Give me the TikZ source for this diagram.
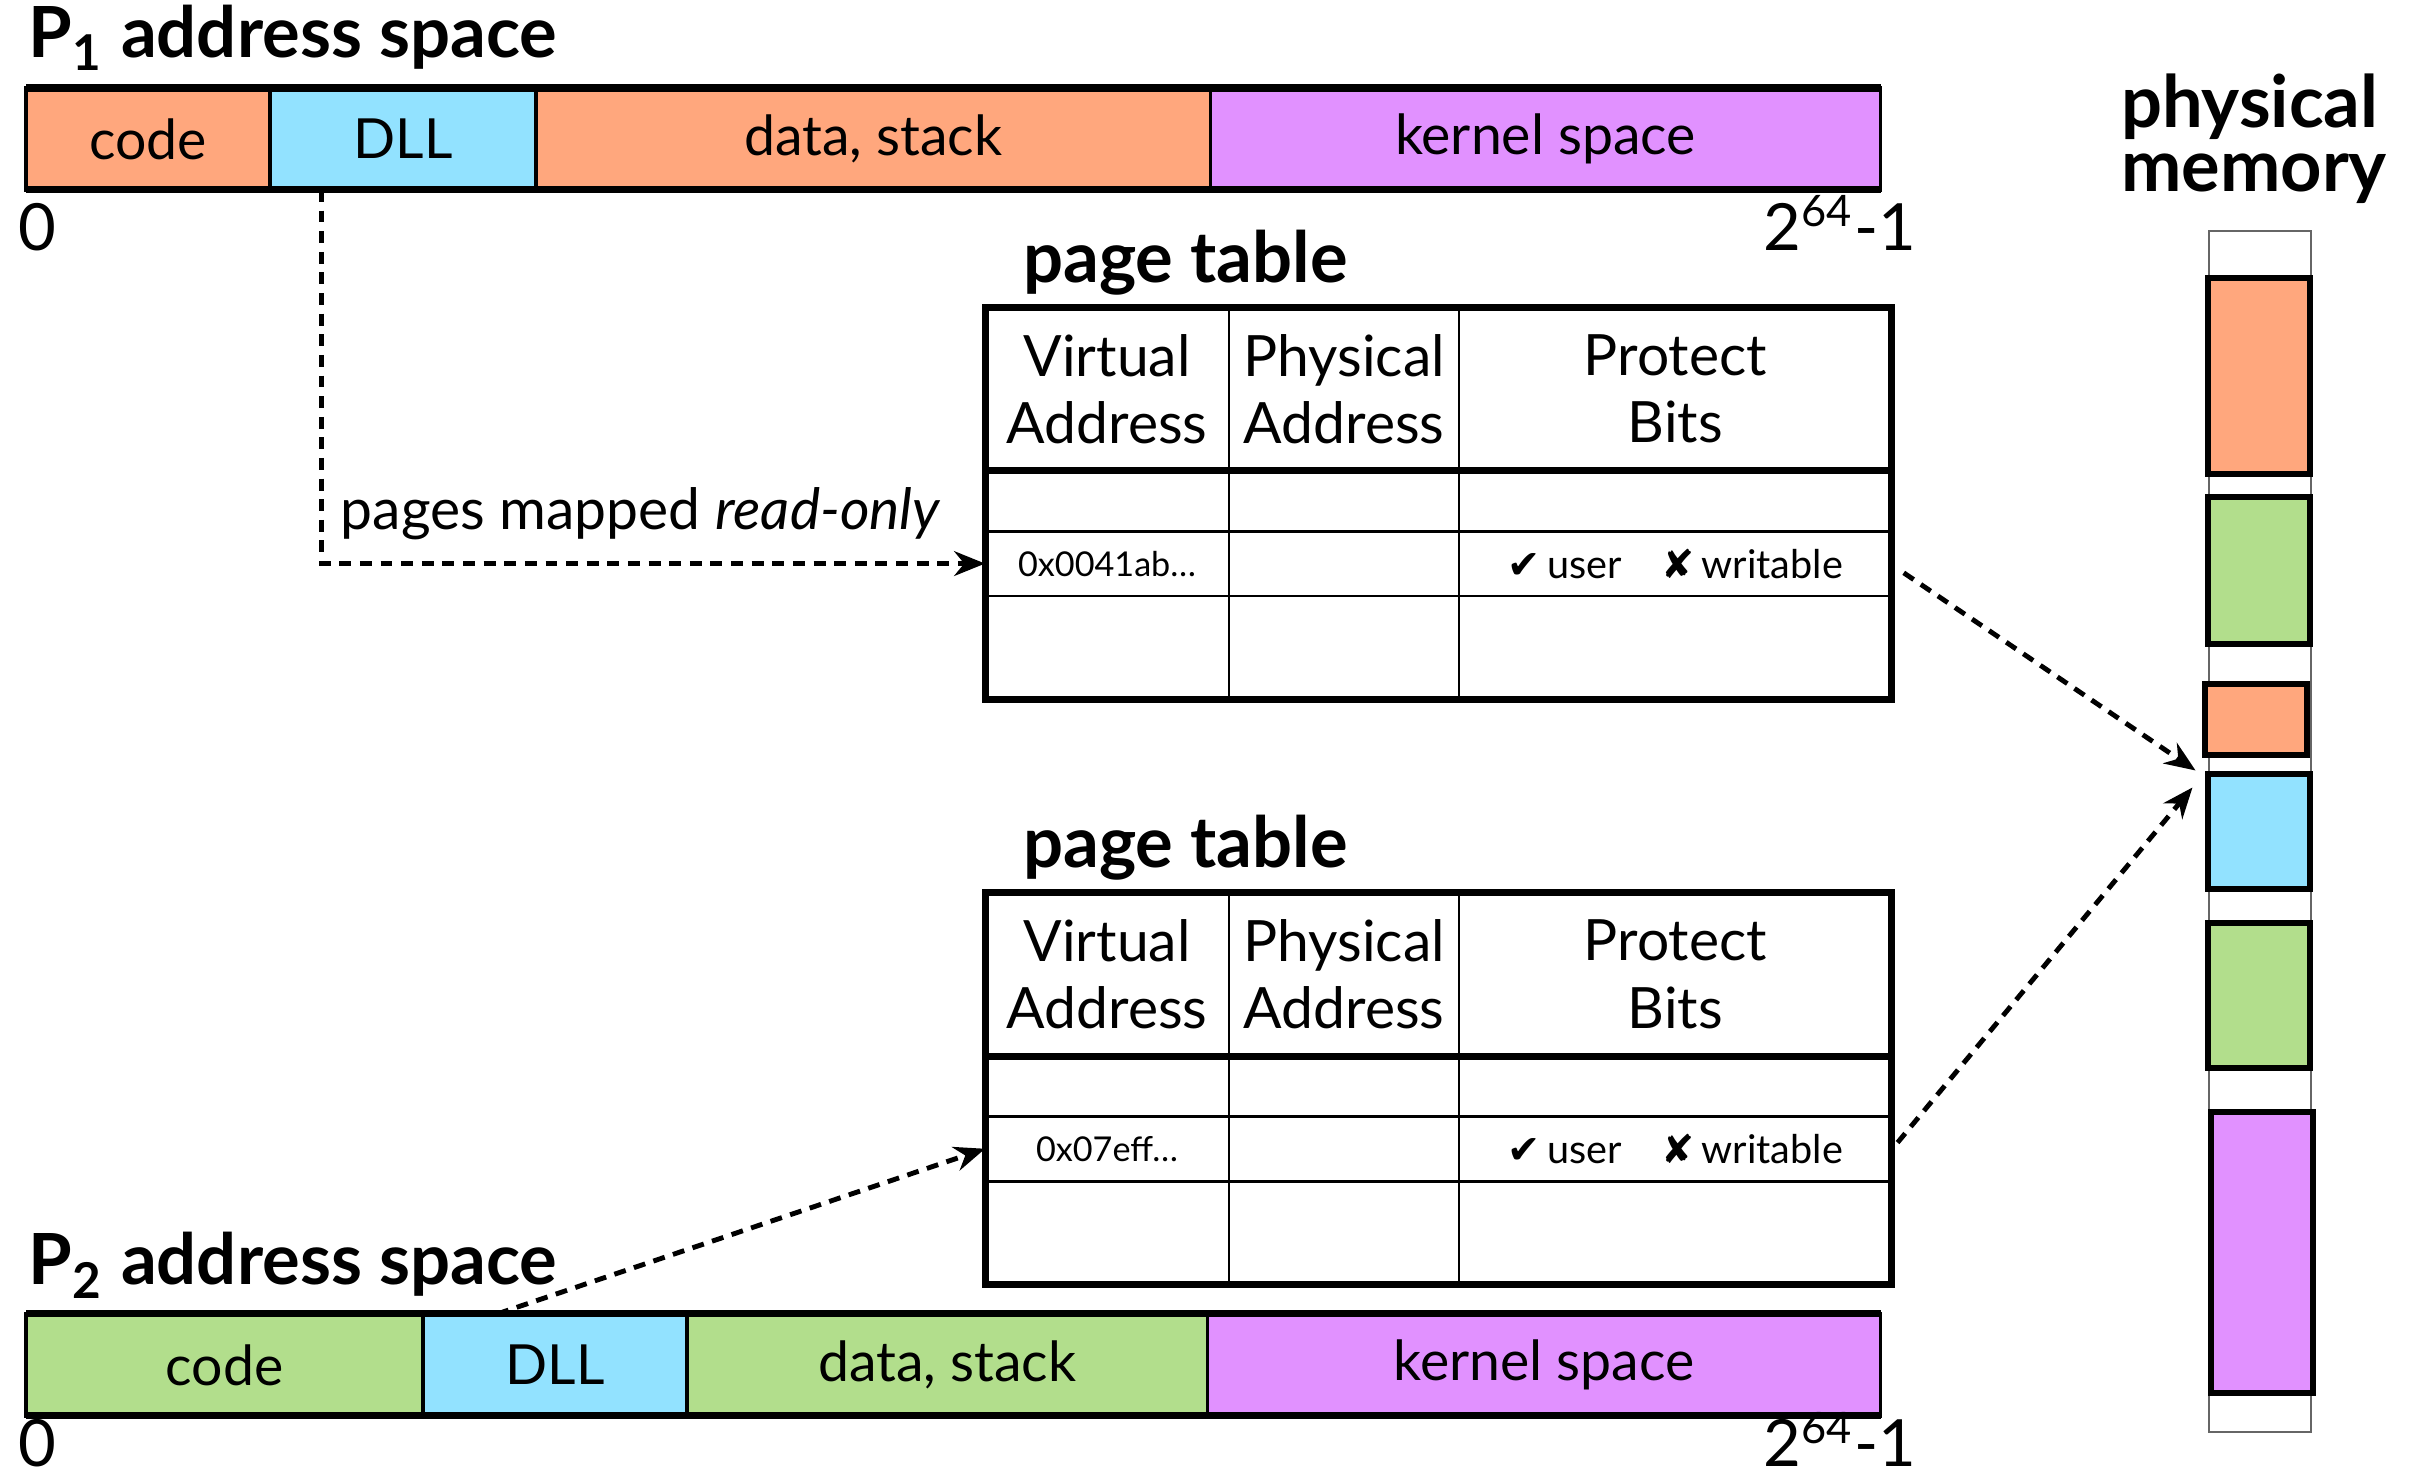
\documentclass[tikz,border=0pt]{standalone}
\usepackage{fontspec}
\setmainfont{Lato}
\newfontfamily\symfont{DejaVu Sans}
\usetikzlibrary{positioning,arrows.meta}

\definecolor{segorange}{RGB}{255,167,125}
\definecolor{seggreen}{RGB}{178,222,140}
\definecolor{segblue}{RGB}{146,226,255}
\definecolor{segpurple}{RGB}{225,145,255}

\tikzset{
  seg/.style={draw, line width=0.7pt, inner sep=0pt, outer sep=0pt,
    minimum height=6.6mm, font=\fontsize{10.2}{12}\selectfont},
  heading/.style={inner sep=0pt, font=\bfseries\fontsize{13}{14}\selectfont},
  bound/.style={inner sep=0pt, font=\fontsize{12}{14}\selectfont},
  cell/.style={draw, line width=0.5pt, inner sep=0pt, outer sep=0pt, align=center,
    font=\fontsize{10.5}{12.4}\selectfont},
  c1/.style={minimum width=15.8mm}, c2/.style={minimum width=14.9mm},
  c3/.style={minimum width=28mm},
  rh/.style={minimum height=10.6mm}, ra/.style={minimum height=3.9mm},
  rb/.style={minimum height=4.2mm}, rc/.style={minimum height=6.7mm},
  block/.style={draw, line width=1.1pt, inner sep=0pt, outer sep=0pt,
    anchor=north west, minimum width=6.6mm},
  link/.style={line width=0.9pt, dash pattern=on 2.2pt off 1.6pt,
    -{Stealth[length=2mm,width=1.6mm]}}
}

\begin{document}
\begin{tikzpicture}[x=0.1mm, y=-0.1mm]
  \useasboundingbox (0,0) rectangle (1568,954);

  % P1 address space
  \node[heading, anchor=base west] (p1title) at (18,37) {P\textsubscript{1} address space};
  \node[seg, fill=segorange, minimum width=15.8mm, anchor=north west] (p1code) at (17,57) {code};
  \node[seg, fill=segblue, minimum width=17.2mm, right=0pt of p1code] (p1dll) {DLL};
  \node[seg, fill=segorange, minimum width=43.7mm, right=0pt of p1dll] (p1data) {data, stack};
  \node[seg, fill=segpurple, minimum width=43.4mm, right=0pt of p1data] (p1kern) {kernel space};
  \draw[line width=1.3pt] (p1code.north west) -- (p1kern.north east)
    (p1code.south west) -- (p1kern.south east);
  \node[bound, anchor=base west] (p1lo) at (11,162) {0};
  \node[bound, anchor=base east] (p1hi) at (1242,162) {2\textsuperscript{64}-1};

  % P2 address space
  \node[heading, anchor=base west] (p2title) at (18,832) {P\textsubscript{2} address space};
  \node[seg, fill=seggreen, minimum width=25.7mm, anchor=north west] (p2code) at (17,851) {code};
  \node[seg, fill=segblue, minimum width=17.1mm, right=0pt of p2code] (p2dll) {DLL};
  \node[seg, fill=seggreen, minimum width=33.7mm, right=0pt of p2dll] (p2data) {data, stack};
  \node[seg, fill=segpurple, minimum width=43.6mm, right=0pt of p2data] (p2kern) {kernel space};
  \draw[line width=1.3pt] (p2code.north west) -- (p2kern.north east)
    (p2code.south west) -- (p2kern.south east);
  \node[bound, anchor=base west] (p2lo) at (11,950) {0};
  \node[bound, anchor=base east] (p2hi) at (1242,950) {2\textsuperscript{64}-1};

  % the two page tables
  \foreach \t/\dy/\va in {1/0/0x0041ab\dots, 2/379/0x07eff\dots} {
    \node[heading, anchor=base west] (t\t-title) at (662,183+\dy) {page table};
    \node[cell, c1, rh, anchor=north west] (t\t-h1) at (638,199+\dy) {Virtual\\Address};
    \node[cell, c2, rh, right=0pt of t\t-h1] (t\t-h2) {Physical\\Address};
    \node[cell, c3, rh, right=0pt of t\t-h2] (t\t-h3) {Protect\\Bits};
    \node[cell, c1, ra, below=0pt of t\t-h1] (t\t-a1) {};
    \node[cell, c2, ra, below=0pt of t\t-h2] (t\t-a2) {};
    \node[cell, c3, ra, below=0pt of t\t-h3] (t\t-a3) {};
    \node[cell, c1, rb, below=0pt of t\t-a1, font=\fontsize{6.3}{8}\selectfont] (t\t-b1) {\va};
    \node[cell, c2, rb, below=0pt of t\t-a2] (t\t-b2) {};
    \node[cell, c3, rb, below=0pt of t\t-a3, font=\fontsize{7.3}{9}\selectfont] (t\t-b3)
      {\raisebox{-1.2pt}{{\symfont ✔}\,user\hspace{2.6mm}{\symfont ✘}\,writable}};
    \node[cell, c1, rc, below=0pt of t\t-b1] (t\t-c1) {};
    \node[cell, c2, rc, below=0pt of t\t-b2] (t\t-c2) {};
    \node[cell, c3, rc, below=0pt of t\t-b3] (t\t-c3) {};
    \draw[line width=1.3pt] (t\t-h1.north west) rectangle (t\t-c3.south east)
      (t\t-h1.south west) -- (t\t-h3.south east);
  }

  % physical memory
  \node[heading, anchor=north west, align=left, font=\bfseries\fontsize{13.3}{11.8}\selectfont]
    (memtitle) at (1373,47) {physical\\memory};
  \node[draw=black!60, line width=0.4pt, anchor=north west, inner sep=0pt,
    minimum width=6.6mm, minimum height=77.8mm] (mem) at (1430,149) {};
  \node[block, fill=segorange, minimum height=12.7mm] (m1) at (1430,180) {};
  \node[block, fill=seggreen, minimum height=9.5mm] (m2) at (1430,322) {};
  \node[block, fill=segorange, minimum height=4.6mm] (m3) at (1428,443) {};
  \node[block, fill=segblue, minimum height=7.5mm] (mdll) at (1430,501) {};
  \node[block, fill=seggreen, minimum height=9.4mm] (m5) at (1430,598) {};
  \node[block, fill=segpurple, minimum height=18.2mm] (m6) at (1432,720) {};

  % mappings
  \draw[link] ([xshift=3.3mm]p1dll.south west) |- (t1-b1.west);
  \node[anchor=base west, inner sep=0pt, font=\fontsize{10.5}{12}\selectfont] (ro)
    at (220,343) {pages mapped \textit{read-only}};
  \draw[link] ([xshift=4.8mm]p2dll.north west) -- (t2-b1.west);
  \draw[link] ([xshift=0.8mm,yshift=-0.6mm]t1-b3.east) -- ([xshift=-0.8mm,yshift=0.2mm]mdll.north west);
  \draw[link] ([xshift=0.4mm,yshift=0.4mm]t2-b3.east) -- ([xshift=-1mm,yshift=-0.9mm]mdll.north west);
\end{tikzpicture}
\end{document}
